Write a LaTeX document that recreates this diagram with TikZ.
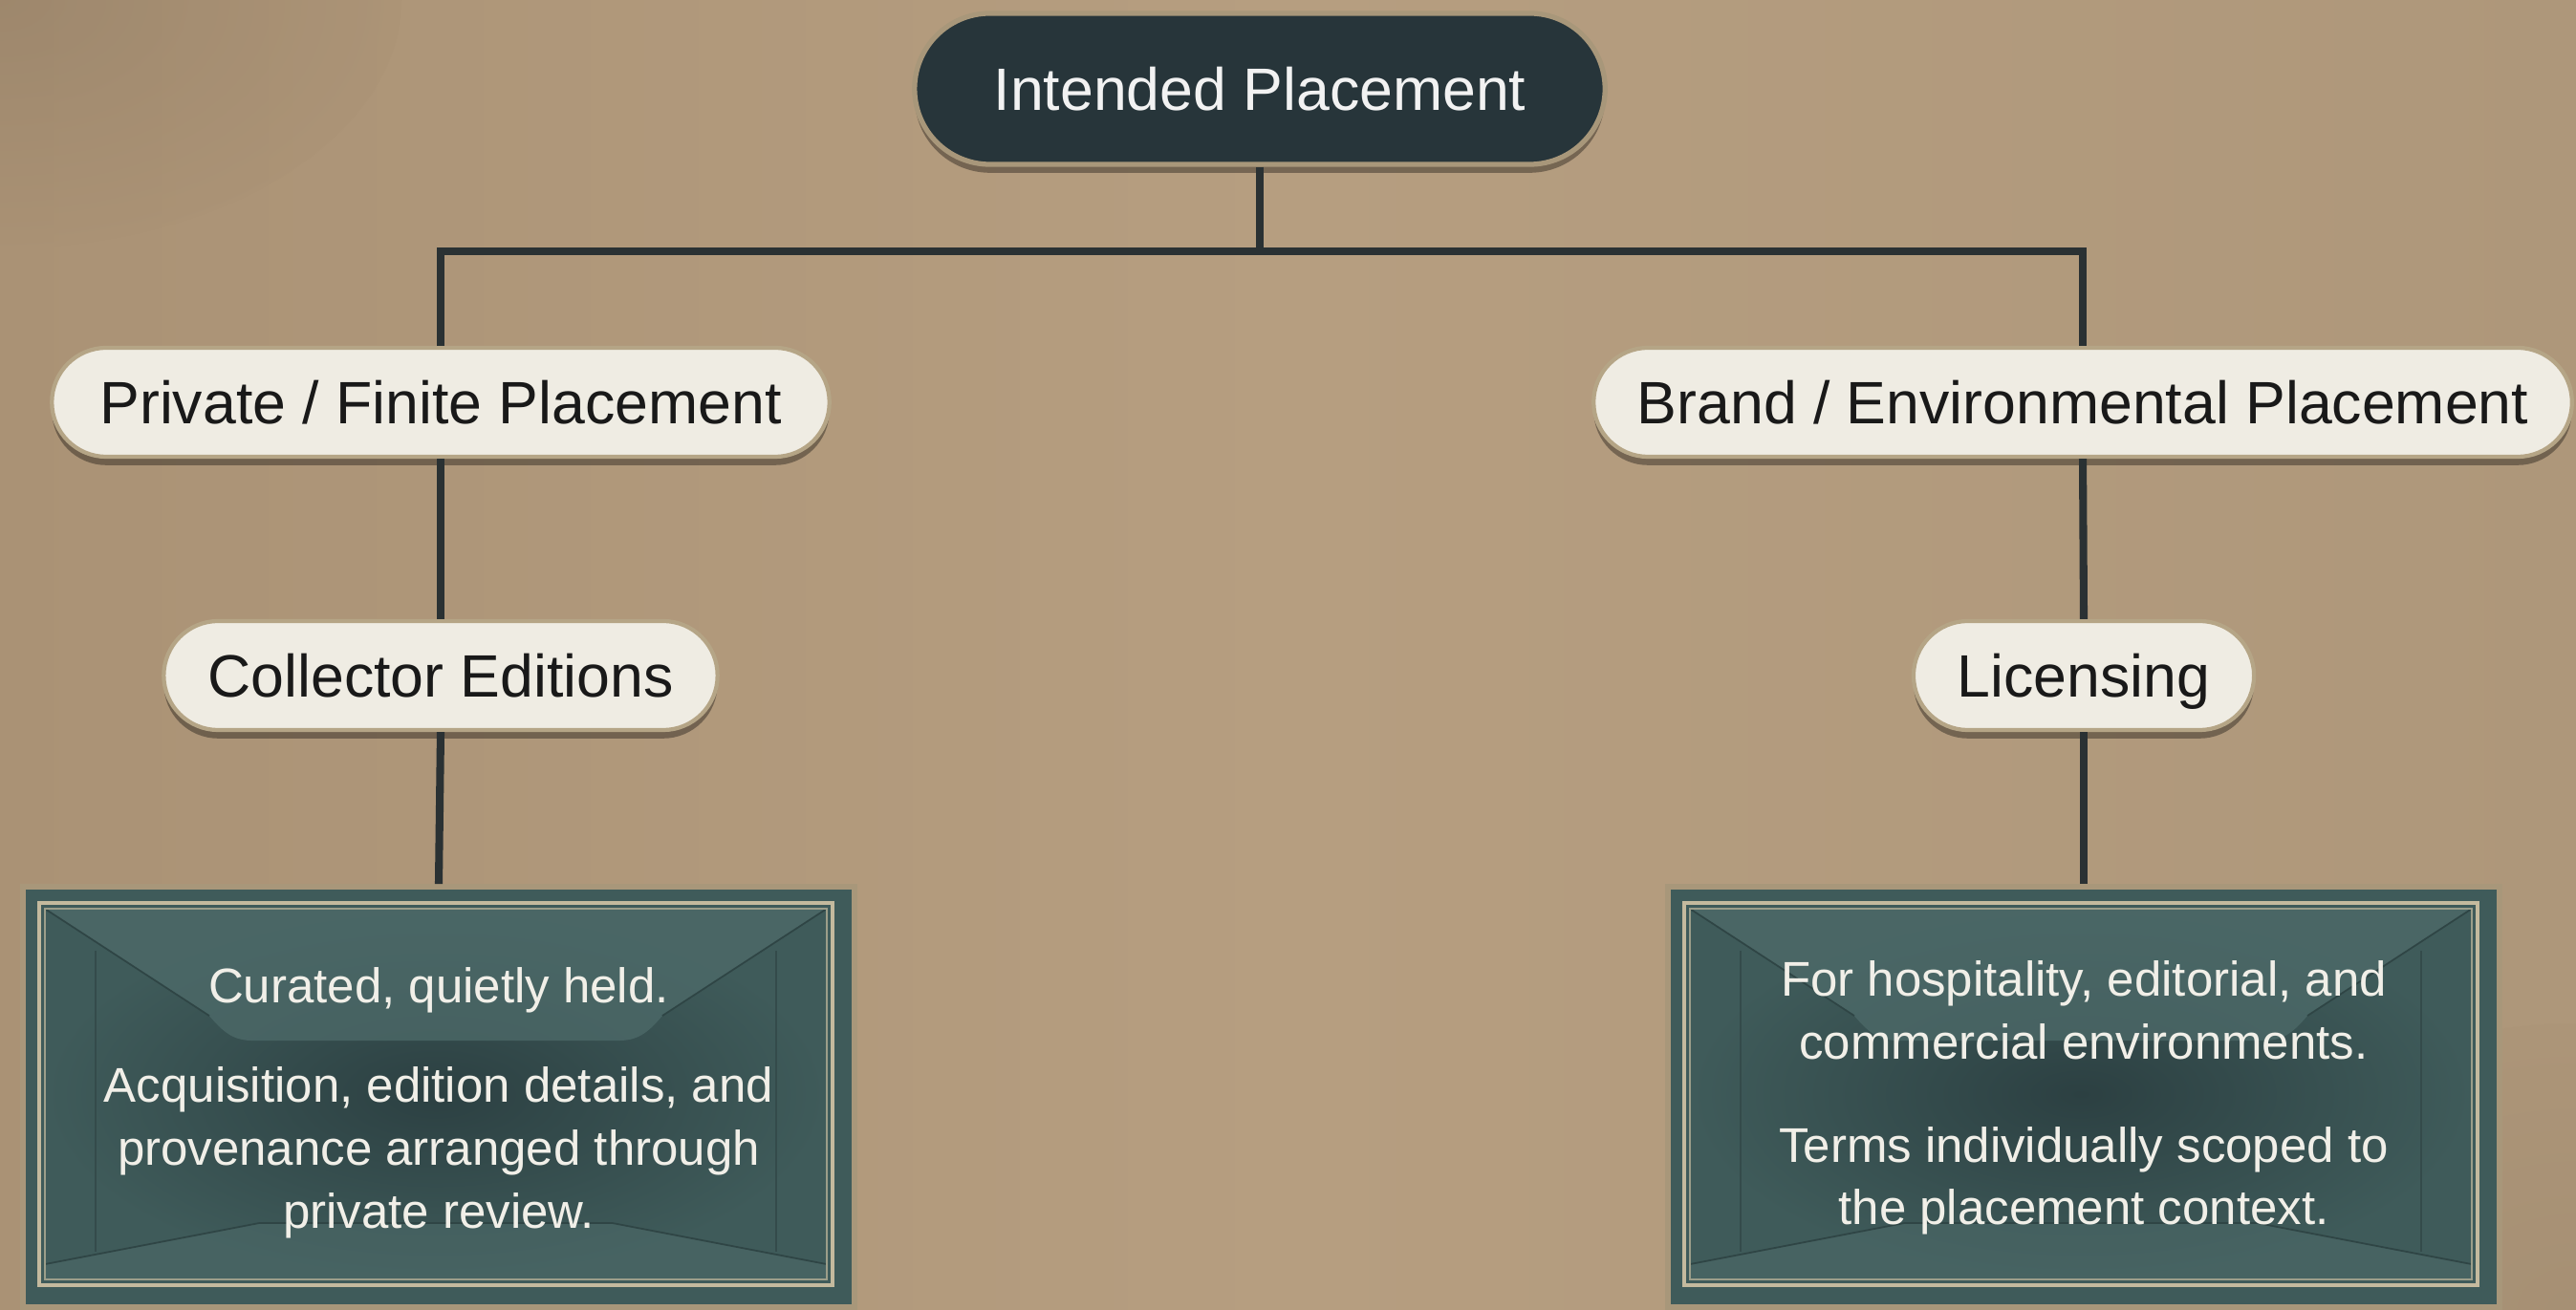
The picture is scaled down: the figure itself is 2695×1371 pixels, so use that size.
\documentclass[tikz,border=0pt]{standalone}
\usepackage{fontspec}
\setmainfont{Liberation Sans}
\usetikzlibrary{shapes.misc,shadows,calc}
\definecolor{bgA}{HTML}{AA9275}
\definecolor{bgB}{HTML}{B69E80}
\definecolor{bgC}{HTML}{AE977A}
\definecolor{topfill}{HTML}{27353A}
\definecolor{tanline}{HTML}{A8977A}
\definecolor{pillfill}{HTML}{EFECE3}
\definecolor{pillline}{HTML}{B5A586}
\definecolor{conncol}{HTML}{2A3133}
\definecolor{boxc}{HTML}{3F5B5A}
\definecolor{boxdark}{HTML}{2C4042}
\definecolor{ceilc}{HTML}{4E6B6A}
\definecolor{edgec}{HTML}{2F4545}
\definecolor{framec}{HTML}{C4BA9E}
\definecolor{boxtextc}{HTML}{F1EFE8}
\tikzset{
  pill/.style={rounded rectangle, fill=pillfill, draw=pillline, line width=1.2pt,
    inner sep=0pt, minimum height=1.14cm, text=black!90,
    text height=12.8pt, text depth=0pt,
    font=\fontsize{17.8}{21}\selectfont,
    drop shadow={opacity=0.35, shadow xshift=0pt, shadow yshift=-2.5pt, fill=black}},
  toppill/.style={pill, fill=topfill, draw=tanline, line width=1.5pt, text=white!95!black,
    minimum height=1.58cm},
  conn/.style={draw=conncol, line width=2.3pt},
  roombox/.style={rectangle, fill=boxc, draw=tanline, line width=1.6pt, inner sep=0pt,
    drop shadow={opacity=0.35, shadow xshift=0pt, shadow yshift=-2pt, fill=black}},
  boxtext/.style={align=center, text=boxtextc, inner sep=0pt,
    font=\fontsize{14.5}{18.7}\selectfont}
}
\newcommand\roomdeco[1]{%
  \begin{scope}[shift={(#1.north west)}]
    \shade[inner color=boxdark, outer color=boxc] (26,26) rectangle (844,414);
    \fill[ceilc, opacity=0.75] (26,26) -- (844,26) -- (672,138)
      .. controls (655,158) and (645,164) .. (625,164) -- (245,164)
      .. controls (225,164) and (215,158) .. (198,138) -- cycle;
    \fill[ceilc, opacity=0.55] (26,414) -- (26,398) -- (250,355) -- (620,355)
      -- (844,398) -- (844,414) -- cycle;
    \draw[edgec, line width=0.5pt] (26,26) -- (198,138);
    \draw[edgec, line width=0.5pt] (844,26) -- (672,138);
    \draw[edgec, line width=0.5pt] (26,398) -- (250,355) -- (620,355) -- (844,398);
    \draw[edgec!70!boxc, line width=0.5pt] (79,70) -- (79,385);
    \draw[edgec!70!boxc, line width=0.5pt] (791,70) -- (791,385);
    \draw[framec, line width=0.9pt] (20,20) rectangle (850,420);
    \draw[framec!70!boxc, line width=0.5pt] (26,26) rectangle (844,414);
  \end{scope}}
\begin{document}
\begin{tikzpicture}[x=0.01cm, y=-0.01cm]
\useasboundingbox (0,0) rectangle (2695,1371);
% background
\shade[left color=bgA, right color=bgC, middle color=bgB] (0,0) rectangle (2695,1371);
\shade[inner color=bgA!80!black, outer color=bgA, opacity=0.35] (0,0) ellipse (420 and 260);
\shade[inner color=bgA!85!black, outer color=bgA, opacity=0.25] (2695,1371) ellipse (400 and 300);

% nodes
\node[toppill, minimum width=7.22cm] (top) at (1318,93) {Intended Placement};
\node[pill, minimum width=8.13cm] (p1) at (461,421) {Private / Finite Placement};
\node[pill, minimum width=10.23cm] (p2) at (2179,421) {Brand / Environmental Placement};
\node[pill, minimum width=5.79cm] (c1) at (461,707) {Collector Editions};
\node[pill, minimum width=3.56cm] (c2) at (2180,707) {Licensing};
\coordinate (bar) at (1318,263);

\node[roombox, minimum width=8.70cm, minimum height=4.40cm] (b1) at (459,1148) {};
\node[roombox, minimum width=8.70cm, minimum height=4.40cm] (b2) at (2180,1148) {};
\roomdeco{b1}
\roomdeco{b2}

\draw[conn] (top.south) -- (top.south |- bar) -| (p1.north);
\draw[conn] (top.south |- bar) -| (p2.north);
\draw[conn] (p1.south) -- (c1.north);
\draw[conn] (p2.south) -- (c2.north);
\draw[conn] (c1.south) -- (b1.north);
\draw[conn] (c2.south) -- (b2.north);

\node[boxtext] (t1) at ($(b1.center)+(0,6)$) {Curated, quietly held.\\[11pt]
  Acquisition, edition details, and\\ provenance arranged through\\ private review.};
\node[boxtext] (t2) at ($(b2.center)+(0,1)$) {For hospitality, editorial, and\\ commercial environments.\\[12pt]
  Terms individually scoped to\\ the placement context.};
\end{tikzpicture}
\end{document}
